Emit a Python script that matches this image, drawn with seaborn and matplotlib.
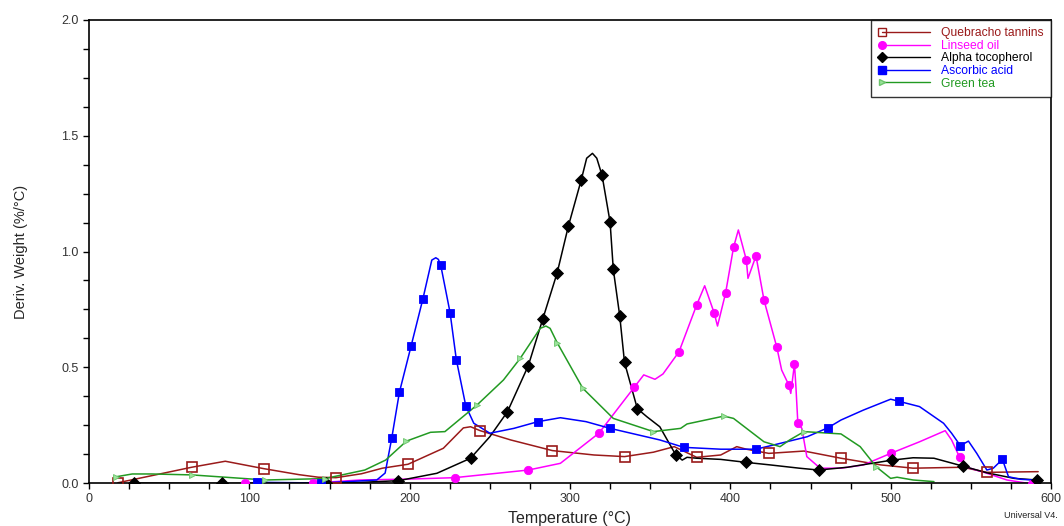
import matplotlib
matplotlib.use("Agg")
import matplotlib.pyplot as plt
from matplotlib.lines import Line2D
from matplotlib.legend_handler import HandlerLine2D
from matplotlib.ticker import MultipleLocator
import seaborn as sns

# Quebracho tannins
qt_x = [18, 40, 64, 85, 109, 131, 143, 154, 170, 183, 199, 221, 233.5, 238, 244, 263, 289, 315, 334, 352,
        365, 379, 394, 404, 410, 424, 446, 469, 494, 514, 545, 560, 592]
qt_y = [0.001, 0.033, 0.068, 0.094, 0.062, 0.036, 0.025, 0.023, 0.040, 0.064, 0.081, 0.150, 0.238, 0.243,
        0.226, 0.186, 0.140, 0.121, 0.114, 0.133, 0.157, 0.111, 0.121, 0.157, 0.146, 0.128, 0.138, 0.107,
        0.078, 0.064, 0.068, 0.046, 0.049]
qt_mx = [18, 64, 109, 154, 199, 244, 289, 334, 379, 424, 469, 514, 560]
qt_my = [0.001, 0.068, 0.062, 0.023, 0.081, 0.226, 0.140, 0.114, 0.111, 0.128, 0.107, 0.064, 0.046]

# Linseed oil
lo_x = [97, 140, 169, 200, 228, 274, 294, 318, 340, 346, 353, 358, 368, 379, 384, 390, 392, 397, 402,
        405, 410, 411, 416, 421, 429, 432, 436.5, 437.7, 440, 440.9, 442.1, 444.6, 447.7, 456, 469, 483,
        500, 518, 534, 538, 543, 547.5, 560, 572.5, 588]
lo_y = [0.0, 0.0, 0.013, 0.017, 0.023, 0.056, 0.085, 0.215, 0.413, 0.467, 0.448, 0.471, 0.567, 0.769,
        0.852, 0.733, 0.678, 0.819, 1.018, 1.093, 0.963, 0.884, 0.981, 0.790, 0.586, 0.488, 0.423, 0.387,
        0.514, 0.416, 0.260, 0.236, 0.114, 0.064, 0.064, 0.078, 0.128, 0.178, 0.226, 0.186, 0.111, 0.068,
        0.042, 0.013, -0.004]
lo_mx = [97, 140, 228, 274, 318, 340, 368, 379, 390, 397, 402, 410, 416, 421, 429, 436.5, 440, 442.1,
         500, 543, 588]
lo_my = [0.0, 0.0, 0.023, 0.056, 0.215, 0.413, 0.567, 0.769, 0.733, 0.819, 1.018, 0.963, 0.981, 0.790,
         0.586, 0.423, 0.514, 0.260, 0.128, 0.111, -0.004]

# Alpha tocopherol
at_x = [28, 83, 148, 170, 193, 217, 238, 250, 261, 274, 283, 292, 299, 307, 310.4, 314, 316.7, 320, 325,
        327, 331, 334, 342, 348, 356, 366, 370, 373, 379, 394, 410, 425, 443, 455, 473, 501, 514, 527,
        545, 560, 577, 591]
at_y = [0.0, -0.002, 0.0, 0.003, 0.01, 0.042, 0.107, 0.200, 0.308, 0.507, 0.708, 0.908, 1.110, 1.309,
        1.403, 1.424, 1.403, 1.329, 1.127, 0.923, 0.723, 0.521, 0.321, 0.286, 0.243, 0.121, 0.099, 0.111,
        0.107, 0.102, 0.089, 0.078, 0.064, 0.056, 0.068, 0.099, 0.109, 0.107, 0.073, 0.044, 0.020, 0.013]
at_mx = [28, 83, 148, 193, 238, 261, 274, 283, 292, 299, 307, 320, 325, 327, 331, 334, 342, 366, 410,
         455, 501, 545, 591]
at_my = [0.0, -0.002, 0.0, 0.01, 0.107, 0.308, 0.507, 0.708, 0.908, 1.110, 1.309, 1.329, 1.127, 0.923,
         0.723, 0.521, 0.321, 0.121, 0.089, 0.056, 0.099, 0.073, 0.013]

# Ascorbic acid
aa_x = [105, 145, 179.5, 184.7, 188.8, 193.6, 200.9, 208.2, 213.8, 216.3, 217.9, 219.4, 225.2, 229.1,
        235, 240, 250, 265, 280, 294, 310, 325, 356, 371, 394, 416, 431, 448, 461, 469, 483, 500, 518,
        533, 538, 543.5, 548.5, 553.7, 560, 564, 569.7, 573.5, 581, 589]
aa_y = [0.003, 0.0, 0.013, 0.043, 0.193, 0.392, 0.592, 0.794, 0.963, 0.973, 0.966, 0.940, 0.736, 0.533,
        0.333, 0.258, 0.215, 0.236, 0.265, 0.282, 0.265, 0.236, 0.186, 0.154, 0.146, 0.146, 0.171, 0.200,
        0.239, 0.272, 0.315, 0.362, 0.330, 0.258, 0.215, 0.161, 0.181, 0.128, 0.056, 0.064, 0.102, 0.027,
        0.016, 0.013]
aa_mx = [105, 145, 188.8, 193.6, 200.9, 208.2, 219.4, 225.2, 229.1, 235, 280, 325, 371, 416, 461, 505,
         543.5, 569.7]
aa_my = [0.003, 0.0, 0.193, 0.392, 0.592, 0.794, 0.940, 0.736, 0.533, 0.333, 0.265, 0.236, 0.154, 0.146,
         0.239, 0.354, 0.161, 0.102]

# Green tea
gt_x = [17, 27, 39, 64, 85, 110, 147, 172, 185, 198, 213, 222, 242, 258.5, 269, 281.4, 285, 287.6, 292,
        308, 327, 352, 369, 373, 396, 402, 421, 431, 437, 446, 469, 481, 491, 500, 504, 514, 527]
gt_y = [0.027, 0.039, 0.039, 0.035, 0.025, 0.013, 0.019, 0.056, 0.099, 0.181, 0.219, 0.222, 0.337, 0.445,
        0.539, 0.668, 0.678, 0.668, 0.606, 0.409, 0.279, 0.222, 0.236, 0.255, 0.289, 0.279, 0.178, 0.157,
        0.186, 0.222, 0.212, 0.157, 0.070, 0.020, 0.025, 0.013, 0.006]
gt_mx = [17, 64, 110, 147, 198, 242, 269, 292, 308, 352, 396, 446, 491]
gt_my = [0.027, 0.035, 0.013, 0.019, 0.181, 0.337, 0.539, 0.606, 0.409, 0.222, 0.289, 0.222, 0.070]

names = ["Quebracho tannins", "Linseed oil", "Alpha tocopherol", "Ascorbic acid", "Green tea"]


class LeftMarkerHandler(HandlerLine2D):
    # legend sample: marker only at the left end of the line
    def create_artists(self, *args, **kwargs):
        arts = super().create_artists(*args, **kwargs)
        for a in arts:
            a.set_markevery([0])
        return arts


sns.set_style("ticks")
plt.rcParams["font.family"] = ["Liberation Sans", "DejaVu Sans"]

fig = plt.figure(figsize=(10.64, 5.26), dpi=100)
ax = fig.add_axes([89 / 1064, 1 - 483 / 526, (1051 - 89) / 1064, (483 - 20) / 526])

series = [
    (qt_x, qt_y, qt_mx, qt_my, "#9a1a1a", "s", "none", 6.5),
    (lo_x, lo_y, lo_mx, lo_my, "#ff00ff", "o", "#ff00ff", 6),
    (at_x, at_y, at_mx, at_my, "black", "D", "black", 6),
    (aa_x, aa_y, aa_mx, aa_my, "#0000ff", "s", "#0000ff", 6),
    (gt_x, gt_y, gt_mx, gt_my, "#229a22", ">", "#9be39b", 5),
]

handles = []
for (x, y, mx, my, col, mk, fc, ms), name in zip(series, names):
    sns.lineplot(x=x, y=y, sort=False, estimator=None, color=col, linewidth=1.1, ax=ax)
    edge = col if mk != ">" else "#6cc46c"
    ax.plot(mx, my, linestyle="none", marker=mk, markersize=ms,
            markerfacecolor=fc, markeredgecolor=edge,
            markeredgewidth=1.2 if fc == "none" else 0.6, zorder=3)
    handles.append(Line2D([], [], color=col, linewidth=1.0, marker=mk, markersize=ms - 0.5,
                          markerfacecolor=fc, markeredgecolor=edge))

ax.set_xlim(0, 600)
ax.set_ylim(0, 2.0)
ax.xaxis.set_major_locator(MultipleLocator(100))
ax.xaxis.set_minor_locator(MultipleLocator(25))
ax.yaxis.set_major_locator(MultipleLocator(0.5))
ax.yaxis.set_minor_locator(MultipleLocator(0.125))
ax.yaxis.set_major_formatter(plt.FormatStrFormatter("%.1f"))
ax.tick_params(which="both", direction="out", length=4, width=1, colors="black",
               labelsize=9, labelcolor="#333333")
for s in ax.spines.values():
    s.set_linewidth(1.2)
    s.set_color("black")

ax.set_xlabel("Temperature (°C)", fontsize=11.5, labelpad=4)
ax.set_ylabel("Deriv. Weight (%/°C)", fontsize=10.5, labelpad=24)

leg = ax.legend(handles, names, loc="upper right", fontsize=8.7, frameon=True, fancybox=False,
                edgecolor="black", borderaxespad=0, handlelength=4.6, handletextpad=0.6,
                labelspacing=0.05, borderpad=0.6, numpoints=2,
                handler_map={Line2D: LeftMarkerHandler(numpoints=2)})
leg.get_frame().set_linewidth(1.0)
for txt, s in zip(leg.get_texts(), series):
    txt.set_color(s[4])

fig.text(1058 / 1064, 1 - 516 / 526, "Universal V4.", fontsize=6.5, ha="right", va="center",
         color="#222222")

fig.savefig("out.png", dpi=100)
